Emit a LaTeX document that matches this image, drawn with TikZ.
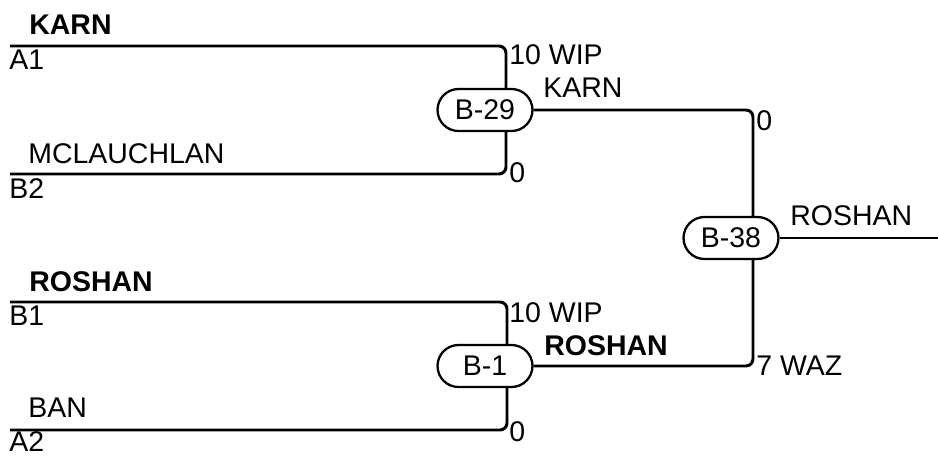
\documentclass[tikz,border=0pt]{standalone}
\usepackage{fontspec}
\setmainfont{Liberation Sans}
\usetikzlibrary{shapes.misc}
\newcommand\slotfont{\fontsize{16.2}{19}\selectfont}

\begin{document}
\begin{tikzpicture}
[x=0.02cm,y=-0.02cm,
 bout/.style={rounded rectangle,draw,line width=1.3pt,fill=white,inner sep=0pt,minimum width=1.9cm,minimum height=0.84cm,font=\slotfont},
 lbl/.style={anchor=west,inner sep=0pt,font=\slotfont},
 win/.style={anchor=west,inner sep=0pt,font=\slotfont\bfseries},
 wire/.style={line width=1.7pt,rounded corners=4pt}]
\useasboundingbox (0,0) rectangle (938,457);
% bouts
\node[bout] (b29) at (485,110) {B-29};
\node[bout] (b1)  at (485,366) {B-1};
\node[bout] (b38) at (731,238) {B-38};
% slots
\coordinate (a1)  at (10,46);
\coordinate (b2)  at (10,174);
\coordinate (sb1) at (10,302);
\coordinate (a2)  at (10,430);
\coordinate (fin) at (938,238);
\draw[wire] (a1)  -| ([xshift=0.42cm]b29.north);
\draw[wire] (b2)  -| ([xshift=0.42cm]b29.south);
\draw[wire] (sb1) -| ([xshift=0.44cm]b1.north);
\draw[wire] (a2)  -| ([xshift=0.44cm]b1.south);
\draw[wire] (b29.east) -| ([xshift=0.44cm]b38.north);
\draw[wire] (b1.east)  -| ([xshift=0.44cm]b38.south);
\draw[wire] (b38.east) -- (fin);
% names and scores
\node[win] (n1) at (29,25)  {KARN};
\node[lbl] (s1) at (9,60)   {A1};
\node[lbl] (n2) at (28,154) {MCLAUCHLAN};
\node[lbl] (s2) at (9,189)  {B2};
\node[win] (n3) at (29,282) {ROSHAN};
\node[lbl] (s3) at (9,316)  {B1};
\node[lbl] (n4) at (28,408) {BAN};
\node[lbl] (s4) at (9,442)  {A2};
\node[lbl] (p1) at (509,55)  {10 WIP};
\node[lbl] (p2) at (509,173) {0};
\node[lbl] (p3) at (509,313) {10 WIP};
\node[lbl] (p4) at (509,432) {0};
\node[lbl] (w1) at (543,88)  {KARN};
\node[win] (w2) at (544,346) {ROSHAN};
\node[lbl] (p5) at (756,121) {0};
\node[lbl] (p6) at (756,366) {7 WAZ};
\node[lbl] (w3) at (790,216) {ROSHAN};
\end{tikzpicture}
\end{document}
